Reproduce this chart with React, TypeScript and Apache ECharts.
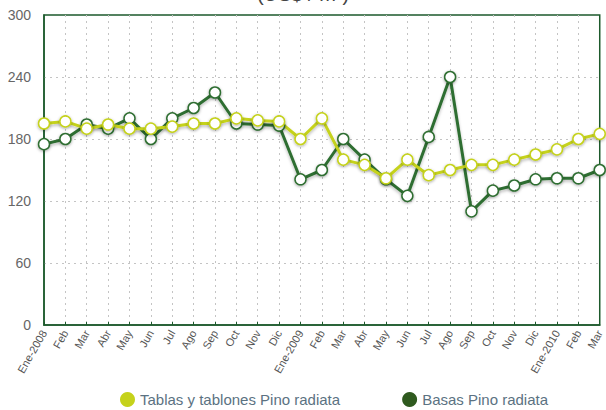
import React, { useEffect, useRef } from "react";
import * as echarts from "echarts";

const categories = [
  "Ene-2008", "Feb", "Mar", "Abr", "May", "Jun", "Jul", "Ago", "Sep", "Oct", "Nov", "Dic",
  "Ene-2009", "Feb", "Mar", "Abr", "May", "Jun", "Jul", "Ago", "Sep", "Oct", "Nov", "Dic",
  "Ene-2010", "Feb", "Mar",
];
const tablasValues = [
  195, 197, 190, 194, 190, 190, 192, 195, 195, 200, 198, 197,
  180, 200, 160, 155, 142, 160, 145, 150, 155, 155, 160, 165,
  170, 180, 185,
];
const basasValues = [
  175, 180, 194, 190, 200, 180, 200, 210, 225, 195, 194, 193,
  141, 150, 180, 160, 141, 125, 182, 240, 110, 130, 135, 141,
  142, 142, 150,
];
const seriesNames = ["Tablas y tablones Pino radiata", "Basas Pino radiata"];
const titleText = "(US$ / m³)";

const FONT = "'Liberation Sans Narrow', 'Liberation Sans', Arial, sans-serif";

export default function App() {
  const ref = useRef<HTMLDivElement>(null);
  useEffect(() => {
    if (!ref.current) return;
    const chart = echarts.init(ref.current, undefined, { renderer: "svg" });
    const mk = (name: string, data: number[], color: string) => ({
      name,
      type: "line",
      data,
      symbol: "circle",
      symbolSize: 11,
      showAllSymbol: true,
      lineStyle: {
        color,
        width: 3,
        shadowColor: "rgba(0,0,0,0.25)",
        shadowBlur: 3,
        shadowOffsetY: 2,
      },
      itemStyle: {
        color: "#ffffff",
        borderColor: color,
        borderWidth: 1.5,
        shadowColor: "rgba(0,0,0,0.35)",
        shadowBlur: 3,
        shadowOffsetY: 1,
      },
    });
    chart.setOption({
      animation: false,
      backgroundColor: "#ffffff",
      graphic: [
        {
          type: "text",
          left: "center",
          top: -16,
          style: { text: titleText, fontSize: 20, fill: "#444", fontFamily: FONT },
        },
      ],
      grid: {
        left: 44,
        right: 6,
        top: 15,
        bottom: 85,
        show: true,
        borderColor: "#1d5a2c",
        borderWidth: 1.5,
        backgroundColor: "transparent",
      },
      legend: {
        top: 392,
        left: 120,
        padding: 0,
        itemGap: 62,
        icon: "circle",
        itemWidth: 15,
        itemHeight: 15,
        textStyle: { color: "#5b7282", fontSize: 15, fontFamily: FONT },
        data: [
          { name: seriesNames[0], itemStyle: { color: "#c5d21b", borderWidth: 0 } },
          { name: seriesNames[1], itemStyle: { color: "#2f5a1f", borderWidth: 0 } },
        ],
      },
      xAxis: {
        type: "category",
        data: categories,
        boundaryGap: false,
        axisLine: { show: true, lineStyle: { color: "#1d5a2c", width: 1.5 } },
        axisTick: { show: true, inside: true, length: 3, interval: 0, lineStyle: { color: "#1d5a2c" } },
        axisLabel: {
          interval: 0,
          rotate: 60,
          color: "#555",
          fontSize: 11,
          fontFamily: FONT,
          margin: 6,
        },
        splitLine: {
          show: true,
          interval: 0,
          showMinLine: false,
          showMaxLine: false,
          lineStyle: { color: "#c4c4c4", type: [2, 4], width: 1 },
        },
      },
      yAxis: {
        type: "value",
        min: 0,
        max: 300,
        interval: 60,
        axisLine: { show: true, lineStyle: { color: "#1d5a2c", width: 1.5 } },
        axisTick: { show: false },
        axisLabel: { color: "#666", fontSize: 14, fontFamily: FONT, margin: 13 },
        splitLine: {
          show: true,
          showMinLine: false,
          showMaxLine: false,
          lineStyle: { color: "#c4c4c4", type: [2, 4], width: 1 },
        },
      },
      series: [
        mk(seriesNames[1], basasValues, "#2f6e31"),
        mk(seriesNames[0], tablasValues, "#c5d21b"),
      ],
    });
    return () => chart.dispose();
  }, []);
  return (
    <div
      ref={ref}
      style={{ position: "fixed", left: 0, top: 0, width: 606, height: 410, background: "#fff" }}
    />
  );
}
